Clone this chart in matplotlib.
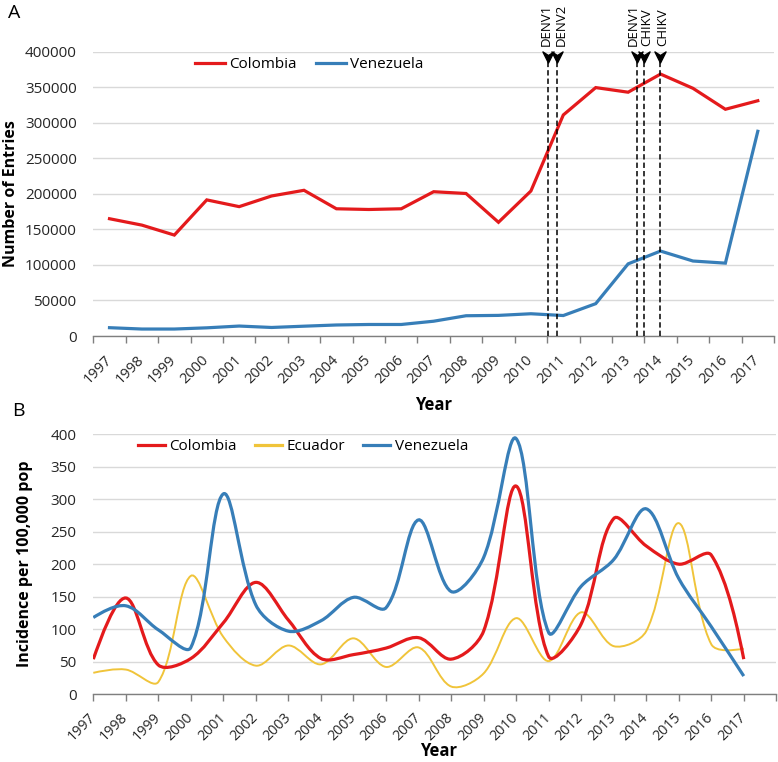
import numpy as np
import matplotlib
matplotlib.use('Agg')
import matplotlib.pyplot as plt
from matplotlib.path import Path
from matplotlib.patches import PathPatch
from matplotlib.lines import Line2D

# ---------------- data ----------------
years = list(range(1997, 2018))
year_labels = [str(y) for y in years]

# Panel A: number of entries
colombia_entries = [165000, 156000, 142000, 191500, 182000, 197000, 205000, 179000,
                    178000, 179000, 203000, 200500, 160000, 204000, 311000, 349500,
                    343000, 368500, 348500, 319000, 331000]
venezuela_entries = [11700, 9800, 9800, 11500, 14000, 12000, 13800, 15500, 16200,
                     16200, 20800, 28500, 29000, 31300, 28800, 45500, 101500, 119500,
                     105500, 102500, 288000]

event_labels = ['DENV1', 'DENV2', 'DENV1', 'CHIKV', 'CHIKV']
event_years = [2010.53, 2010.82, 2013.26, 2013.50, 2013.97]

# Panel B: incidence per 100,000
colombia_inc = [54, 148, 45, 55, 110, 172, 114, 55, 61, 71, 87, 54, 97, 320, 58, 108,
                270, 228, 200, 214, 54]
ecuador_inc = [33, 38, 19, 182, 88, 44, 75, 46, 86, 42, 72, 12, 32, 117, 51, 126, 74,
               97, 263, 77, 70]
venezuela_inc = [118, 136, 99, 72, 308, 137, 97, 113, 149, 133, 268, 158, 210, 393, 95,
                 166, 207, 285, 178, 104, 28]

# ---------------- style ----------------
RED = '#E41A1C'
BLUE = '#377EB8'
YELLOW = '#F0C43A'
GRID = '#D9D9D9'
AXIS = '#7F7F7F'
FONT = ['Open Sans', 'DejaVu Sans']
plt.rcParams['font.family'] = FONT
plt.rcParams['font.size'] = 11

fig = plt.figure(figsize=(7.78, 7.62), dpi=100)
W, H = 778, 762


def ax_rect(l, t, r, b):
    return [l / W, 1 - b / H, (r - l) / W, (b - t) / H]


def style_axes(ax):
    for s in ['left', 'right', 'top']:
        ax.spines[s].set_visible(False)
    ax.spines['bottom'].set_color(AXIS)
    ax.spines['bottom'].set_linewidth(1.0)
    ax.grid(axis='y', color=GRID, linewidth=1.0)
    ax.set_axisbelow(True)
    ax.tick_params(axis='y', length=0, pad=12, labelsize=11, labelcolor='#262626')
    ax.tick_params(axis='x', which='major', direction='out', length=5, width=1.0,
                   color=AXIS)


# ---------------- Panel A ----------------
axA = fig.add_axes(ax_rect(93.3, 51.7, 774, 336))
style_axes(axA)
axA.plot(years, colombia_entries, color=RED, lw=2.3, solid_joinstyle='miter',
         label='Colombia')
axA.plot(years, venezuela_entries, color=BLUE, lw=2.3, solid_joinstyle='miter',
         label='Venezuela')
axA.set_xlim(years[0] - 0.5, years[-1] + 0.5)
axA.set_ylim(0, 400000)
axA.set_yticks(np.arange(0, 400001, 50000))
axA.set_yticklabels([str(v) for v in range(0, 400001, 50000)])
axA.set_xticks(np.arange(years[0] - 0.5, years[-1] + 1.0, 1.0))
axA.set_xticklabels([])
axA.set_xticks(years, minor=True)
axA.set_xticklabels(year_labels, minor=True, rotation=45, ha='right', va='center',
                    rotation_mode='anchor', fontsize=10.5, color='#262626')
axA.tick_params(axis='x', which='minor', length=0, pad=16)

stealth = Path([(-1, 1), (0, -1), (1, 1), (0, 0.35), (-1, 1)],
               [Path.MOVETO, Path.LINETO, Path.LINETO, Path.LINETO, Path.CLOSEPOLY])
text_dx = [-1, 3, -2.5, 2, 2]
for lab, xe, dx in zip(event_labels, event_years, text_dx):
    axA.plot([xe, xe], [0, 388000], color='black', lw=1.1, ls=(0, (3.5, 2)),
             clip_on=False, zorder=3)
    axA.plot([xe], [392500], marker=stealth, markersize=8, color='black',
             clip_on=False, zorder=4)
    axA.annotate(lab, xy=(xe, 400000), xytext=(dx, 4), textcoords='offset points',
                 rotation=90, ha='center', va='bottom', fontsize=9.5,
                 annotation_clip=False)

axA.legend(loc='center', bbox_to_anchor=(309 / W, 1 - 65 / H),
           bbox_transform=fig.transFigure, ncol=2, frameon=False,
           handlelength=2.0, handletextpad=0.25, columnspacing=1.25, fontsize=11)

fig.text(434 / W, 1 - 405 / H, 'Year', ha='center', va='center', fontsize=12,
         fontweight='bold')
fig.text(11 / W, 1 - 194 / H, 'Number of Entries', ha='center', va='center',
         rotation=90, fontsize=11.5, fontweight='bold')
fig.text(8 / W, 1 - 4 / H, 'A', ha='left', va='top', fontsize=14)


# ---------------- Panel B ----------------
def smooth_path(ax, x, y, k=1.0 / 3.0):
    """Bezier smoothing (Excel-like) computed in display space."""
    P = ax.transData.transform(np.column_stack([x, y]).astype(float))
    n = len(P)
    cin = P.copy()
    cout = P.copy()
    for i in range(1, n - 1):
        T = (P[i + 1] - P[i - 1]) * k
        dp = np.hypot(*(P[i] - P[i - 1]))
        dn = np.hypot(*(P[i + 1] - P[i]))
        cout[i] = P[i] + T * dn / (dp + dn)
        cin[i] = P[i] - T * dp / (dp + dn)
    cout[0] = P[0] + (cin[1] - P[0]) / 3.0
    cin[-1] = P[-1] + (cout[-2] - P[-1]) / 3.0
    verts = [P[0]]
    codes = [Path.MOVETO]
    for i in range(n - 1):
        verts += [cout[i], cin[i + 1], P[i + 1]]
        codes += [Path.CURVE4] * 3
    verts = ax.transData.inverted().transform(np.array(verts))
    return Path(verts, codes)


axB = fig.add_axes(ax_rect(93.3, 434, 776.3, 694.3))
style_axes(axB)
axB.set_xlim(years[0], years[-1] + 1)
axB.set_ylim(0, 400)
axB.set_yticks(np.arange(0, 401, 50))
axB.set_xticks(list(years) + [years[-1] + 1])
axB.set_xticklabels(year_labels + [''], rotation=45, ha='right', va='center',
                    rotation_mode='anchor', fontsize=10.3, color='#262626')
axB.tick_params(axis='x', which='major', pad=10)

axB.add_patch(PathPatch(smooth_path(axB, years, ecuador_inc), facecolor='none',
                        edgecolor=YELLOW, lw=1.4, zorder=2))
axB.add_patch(PathPatch(smooth_path(axB, years, colombia_inc), facecolor='none',
                        edgecolor=RED, lw=2.3, zorder=3))
axB.add_patch(PathPatch(smooth_path(axB, years, venezuela_inc), facecolor='none',
                        edgecolor=BLUE, lw=2.3, zorder=4))

handles = [Line2D([], [], color=RED, lw=2.3), Line2D([], [], color=YELLOW, lw=2.3),
           Line2D([], [], color=BLUE, lw=2.3)]
axB.legend(handles, ['Colombia', 'Ecuador', 'Venezuela'], loc='center',
           bbox_to_anchor=(303 / W, 1 - 447 / H), bbox_transform=fig.transFigure,
           ncol=3, frameon=False, handlelength=1.75, handletextpad=0.3,
           columnspacing=1.2, fontsize=11)

fig.text(439 / W, 1 - 751 / H, 'Year', ha='center', va='center', fontsize=12,
         fontweight='bold')
fig.text(25 / W, 1 - 564 / H, 'Incidence per 100,000 pop', ha='center',
         va='center', rotation=90, fontsize=11.5, fontweight='bold')
fig.text(12 / W, 1 - 402 / H, 'B', ha='left', va='top', fontsize=14)

fig.savefig('out.png', dpi=100)
